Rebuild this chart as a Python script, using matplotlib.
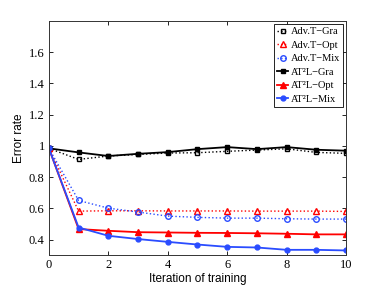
import numpy as np
import matplotlib
matplotlib.use("Agg")
import matplotlib.pyplot as plt

## DATA
iters = [0, 1, 2, 3, 4, 5, 6, 7, 8, 9, 10]
adv_gra = [0.984, 0.913, 0.935, 0.945, 0.954, 0.956, 0.965, 0.973, 0.981, 0.958, 0.952]
adv_opt = [0.984, 0.582, 0.584, 0.584, 0.583, 0.583, 0.583, 0.582, 0.582, 0.582, 0.580]
adv_mix = [0.984, 0.650, 0.601, 0.576, 0.550, 0.542, 0.537, 0.537, 0.533, 0.531, 0.531]
at2l_gra = [0.984, 0.958, 0.935, 0.949, 0.960, 0.979, 0.992, 0.979, 0.992, 0.975, 0.969]
at2l_opt = [0.984, 0.467, 0.456, 0.447, 0.445, 0.443, 0.442, 0.440, 0.437, 0.433, 0.433]
at2l_mix = [0.984, 0.477, 0.424, 0.403, 0.385, 0.368, 0.353, 0.349, 0.334, 0.334, 0.330]
labels = ['Adv.T\u2212Gra', 'Adv.T\u2212Opt', 'Adv.T\u2212Mix',
          'AT\u00b2L\u2212Gra', 'AT\u00b2L\u2212Opt', 'AT\u00b2L\u2212Mix']
yticks = [0.4, 0.6, 0.8, 1.0, 1.2, 1.4, 1.6]
xticks = [0, 2, 4, 6, 8, 10]

blue = '#2a4cff'
serif = 'Liberation Serif'

fig = plt.figure(figsize=(3.82, 2.87), dpi=100)
ax = fig.add_axes([0.128, 0.111, 0.778, 0.816])

## dotted baselines
ax.plot(iters, adv_gra, ':s', color='k', mfc='none', ms=3.5, mew=1.0, lw=1.0, label=labels[0])
ax.plot(iters, adv_opt, ':^', color='r', mfc='none', ms=4, mew=1.0, lw=1.0, label=labels[1])
ax.plot(iters, adv_mix, ':o', color=blue, mfc='none', ms=4, mew=1.0, lw=1.0, label=labels[2])
## solid AT2L
ax.plot(iters, at2l_gra, '-s', color='k', ms=3.5, lw=1.3, label=labels[3])
ax.plot(iters, at2l_opt, '-^', color='r', ms=4, lw=1.3, label=labels[4])
ax.plot(iters, at2l_mix, '-o', color=blue, ms=3.5, lw=1.3, label=labels[5])

ax.set_xlim(0, 10)
ax.set_ylim(0.3, 1.8)
ax.set_xticks(xticks)
ax.set_yticks(yticks)
ax.set_xticklabels([str(t) for t in xticks], fontfamily=serif, fontsize=9)
ax.set_yticklabels(['0.4', '0.6', '0.8', '1', '1.2', '1.4', '1.6'], fontfamily=serif, fontsize=9)
ax.tick_params(direction='in', top=True, right=True, length=3, width=0.6, pad=3)
for s in ax.spines.values():
    s.set_linewidth(0.7)
    s.set_color('#333333')

ax.set_xlabel('Iteration of training', fontfamily='Liberation Sans', fontsize=8.5, labelpad=1)
ax.set_ylabel('Error rate', fontfamily='Liberation Sans', fontsize=8.5, labelpad=3)

leg = ax.legend(loc='upper right', prop={'family': serif, 'size': 7.5}, handlelength=1.0,
                handletextpad=0.25, borderpad=0.3, labelspacing=0.4, fancybox=False,
                framealpha=1, borderaxespad=0.3)
leg.get_frame().set_edgecolor('k')
leg.get_frame().set_linewidth(0.6)

fig.savefig('out.png', dpi=100)
